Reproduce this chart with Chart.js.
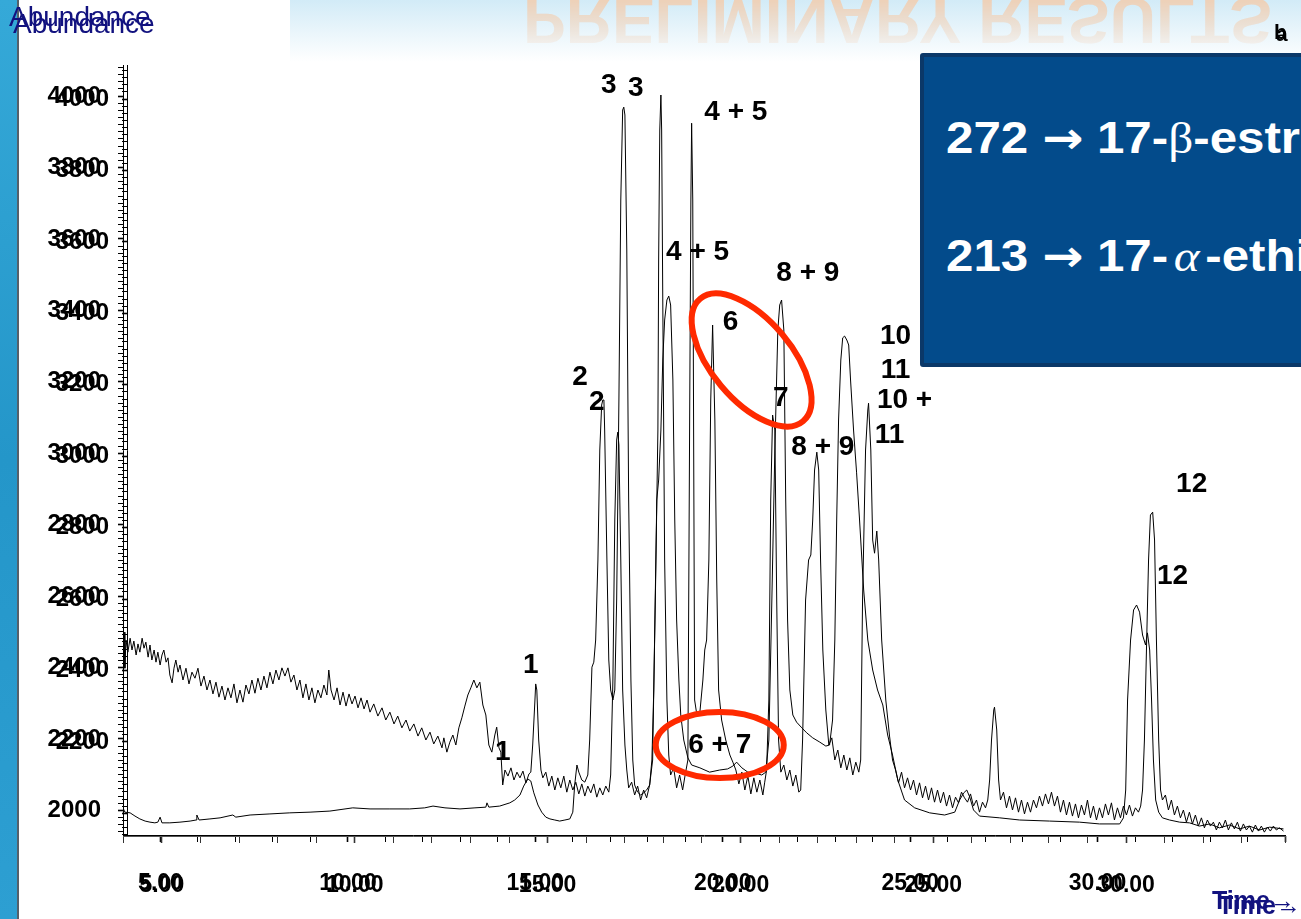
<!DOCTYPE html>
<html>
<head>
<meta charset="utf-8">
<script src="https://cdn.jsdelivr.net/npm/chart.js@4.4.1/dist/chart.umd.min.js"></script>
<style>
html, body { margin: 0; padding: 0; width: 1301px; height: 919px; overflow: hidden; background: #fff; font-family: "Liberation Sans", Arial, sans-serif; }
#leftbar { position: absolute; left: 0; top: 0; width: 17px; height: 919px; background: linear-gradient(180deg, #35a9d8, #2496c9 50%, #2d9fd2); border-right: 2px solid #55606a; }
#header { position: absolute; left: 290px; top: 0; width: 1011px; height: 62px; background: linear-gradient(180deg, #d2ebf7 0%, #e9f5fb 50%, #ffffff 100%); }
#titleclip { position: absolute; left: 0; top: 0; width: 1301px; height: 50px; overflow: hidden;
  -webkit-mask-image: linear-gradient(180deg, rgba(0,0,0,0.8), rgba(0,0,0,0.1));
  mask-image: linear-gradient(180deg, rgba(0,0,0,0.8), rgba(0,0,0,0.1)); }
#title { position: absolute; left: 523px; top: -12px; font-weight: bold; font-size: 64px; line-height: 64px; color: #f5caa8; white-space: nowrap; transform: scaleY(-1); }
canvas#chart { position: absolute; left: 0; top: 0; z-index: 2; }
.navy { position: absolute; color: #12127f; white-space: nowrap; z-index: 3; }
#box { position: absolute; left: 920px; top: 53px; width: 400px; height: 306px; background: #034b8b; border: 4px solid #0b3868; border-radius: 3px; z-index: 4; color: #fff; font-weight: bold; font-size: 44px; white-space: nowrap; overflow: hidden; }
#box .l { position: absolute; left: 22px; transform: scaleX(1.12); transform-origin: left center; }
.arr { font-family: "DejaVu Sans", sans-serif; font-size: 44px; }
.gr { font-family: "Liberation Serif", serif; font-weight: normal; }
.ab { position: absolute; font-weight: bold; font-size: 21px; color: #000; z-index: 3; }
</style>
</head>
<body>
<div id="leftbar"></div>
<div id="header"></div>
<div id="titleclip"><div id="title">PRELIMINARY RESULTS</div></div>

<canvas id="chart" width="1301" height="919"></canvas>

<div class="navy" style="left:9px;top:1px;font-size:28px;">Abundance</div>
<div class="navy" style="left:13px;top:8px;font-size:28px;">Abundance</div>
<div class="ab" style="left:1274px;top:20px;">b</div>
<div class="ab" style="left:1276px;top:22px;">a</div>
<div class="navy" style="left:1212px;top:886px;font-size:25px;font-weight:bold;">Time→</div>
<div class="navy" style="left:1218px;top:891px;font-size:25px;font-weight:bold;">Time→</div>

<div id="box">
  <div class="l" style="top:55px;">272 <span class="arr">→</span> 17-<span class="gr">β</span>-estradiol</div>
  <div class="l" style="top:173px;">213 <span class="arr">→</span> 17-<span class="gr" style="font-style:italic;margin:0 5px;">α</span>-ethinylestradiol</div>
</div>

<script>
// trace a : noisy chromatogram (time in min, abundance)
const timeA = [4.00,4.03,4.05,4.08,4.13,4.19,4.24,4.29,4.35,4.40,4.45,4.51,4.56,4.61,4.67,4.72,4.77,4.83,4.88,4.93,
  4.99,5.04,5.09,5.15,5.20,5.25,5.31,5.36,5.41,5.47,5.52,5.60,5.68,5.76,5.84,5.92,6.00,6.08,6.16,6.24,
  6.32,6.40,6.48,6.56,6.64,6.72,6.80,6.88,6.96,7.04,7.12,7.20,7.28,7.36,7.44,7.52,7.60,7.68,7.76,7.84,
  7.92,8.00,8.08,8.16,8.24,8.32,8.40,8.48,8.56,8.64,8.72,8.80,8.88,8.96,9.04,9.12,9.20,9.28,9.36,9.44,
  9.49,9.55,9.63,9.71,9.79,9.87,9.95,10.03,10.11,10.19,10.27,10.35,10.43,10.51,10.59,10.69,10.80,10.91,11.01,11.12,
  11.23,11.33,11.44,11.55,11.65,11.76,11.87,11.97,12.08,12.19,12.29,12.40,12.51,12.56,12.64,12.72,12.80,12.88,12.96,13.04,
  13.12,13.20,13.28,13.36,13.44,13.52,13.60,13.68,13.76,13.84,13.92,13.97,14.03,14.08,14.13,14.19,14.27,14.35,14.43,14.51,
  14.59,14.67,14.75,14.83,14.88,14.93,14.99,15.01,15.04,15.09,15.15,15.20,15.28,15.36,15.44,15.52,15.60,15.68,15.76,15.84,
  15.92,16.00,16.08,16.16,16.24,16.32,16.40,16.48,16.56,16.64,16.72,16.80,16.88,16.96,17.01,17.07,17.12,17.17,17.20,17.23,
  17.28,17.33,17.39,17.44,17.49,17.57,17.65,17.73,17.81,17.89,17.97,18.05,18.11,18.16,18.21,18.27,18.29,18.32,18.35,18.37,
  18.40,18.45,18.51,18.56,18.61,18.69,18.77,18.85,18.93,19.01,19.07,19.12,19.15,19.17,19.20,19.23,19.25,19.31,19.39,19.47,
  19.52,19.57,19.63,19.68,19.73,19.79,19.84,19.89,19.97,20.08,20.19,20.27,20.35,20.43,20.51,20.59,20.67,20.75,20.83,20.91,
  20.99,21.07,21.12,21.17,21.23,21.28,21.33,21.39,21.44,21.49,21.55,21.63,21.71,21.79,21.87,21.95,22.03,22.08,22.13,22.21,
  22.29,22.35,22.40,22.45,22.51,22.56,22.61,22.67,22.75,22.83,22.91,22.99,23.07,23.15,23.23,23.31,23.39,23.47,23.55,23.63,
  23.68,23.73,23.81,23.87,23.89,23.95,24.00,24.05,24.11,24.16,24.24,24.35,24.45,24.53,24.61,24.69,24.77,24.85,24.93,25.01,
  25.09,25.17,25.25,25.33,25.41,25.49,25.57,25.65,25.73,25.81,25.89,25.97,26.05,26.13,26.21,26.29,26.37,26.45,26.53,26.61,
  26.69,26.77,26.85,26.93,27.01,27.07,27.12,27.17,27.23,27.25,27.31,27.36,27.41,27.49,27.57,27.65,27.73,27.81,27.89,27.97,
  28.05,28.13,28.21,28.29,28.37,28.45,28.53,28.61,28.69,28.77,28.85,28.93,29.01,29.09,29.17,29.25,29.33,29.41,29.49,29.57,
  29.65,29.73,29.81,29.89,29.97,30.05,30.13,30.21,30.29,30.37,30.45,30.53,30.61,30.69,30.77,30.85,30.93,31.01,31.09,31.15,
  31.20,31.25,31.31,31.36,31.41,31.47,31.52,31.57,31.63,31.68,31.73,31.81,31.89,31.97,32.05,32.13,32.21,32.29,32.37,32.45,
  32.53,32.61,32.69,32.77,32.85,32.93,33.01,33.09,33.17,33.25,33.33,33.41,33.49,33.57,33.65,33.73,33.81,33.89,33.97,34.05,
  34.13,34.21,34.29,34.37,34.45,34.53,34.61,34.69,34.77,34.85,34.96];
const abundA = [2449,2499,2398,2477,2443,2482,2449,2474,2435,2466,2443,2482,2454,2471,2429,2463,2421,2449,2415,2443,
  2407,2435,2449,2415,2427,2379,2357,2398,2421,2387,2407,2365,2398,2354,2387,2370,2398,2348,2376,2337,
  2365,2326,2359,2317,2348,2309,2343,2315,2354,2301,2337,2303,2351,2326,2365,2328,2370,2337,2376,2343,
  2387,2354,2393,2365,2399,2376,2399,2359,2379,2337,2365,2315,2354,2309,2343,2301,2337,2315,2351,2323,
  2393,2337,2309,2343,2295,2331,2292,2326,2298,2320,2287,2315,2284,2309,2275,2298,2264,2287,2253,2275,
  2242,2264,2231,2253,2222,2242,2208,2231,2197,2219,2186,2208,2175,2203,2163,2191,2211,2183,2231,2259,
  2292,2323,2343,2365,2343,2359,2295,2267,2183,2163,2211,2233,2175,2163,2071,2113,2096,2119,2085,2107,
  2091,2110,2077,2102,2107,2183,2309,2354,2337,2197,2113,2091,2107,2068,2096,2057,2091,2063,2096,2051,
  2085,2057,2079,2046,2074,2040,2068,2049,2074,2037,2063,2043,2068,2051,2099,2365,2813,3037,3059,3023,
  2701,2337,2183,2113,2063,2079,2043,2068,2029,2057,2035,2071,2141,2337,2645,3065,3541,3905,4003,3905,
  3429,2701,2309,2155,2099,2119,2063,2099,2057,2107,2141,3149,3709,3924,3709,2869,2309,2267,2275,2365,
  2449,2477,2701,3149,3359,3093,2645,2337,2253,2197,2155,2135,2113,2074,2107,2057,2096,2046,2091,2051,
  2085,2043,2079,2113,2309,2869,3107,3065,2589,2197,2107,2127,2085,2113,2068,2099,2051,2057,2197,2589,
  2701,2715,2813,2953,3003,2953,2701,2449,2281,2183,2203,2141,2169,2119,2155,2113,2147,2099,2135,2107,
  2141,2589,3009,3121,3140,3009,2757,2720,2782,2701,2477,2309,2208,2141,2113,2077,2107,2063,2091,2057,
  2085,2043,2077,2035,2068,2029,2063,2023,2057,2021,2051,2012,2043,2007,2037,2021,2051,2035,2023,2046,
  2012,2029,1995,2023,2007,2029,2085,2197,2281,2289,2225,2085,2029,2051,2007,2040,2001,2035,1995,2029,
  1990,2023,1995,2029,2007,2040,2012,2046,2018,2051,2012,2040,1995,2029,1987,2023,1984,2018,1979,2015,
  1987,2029,1979,2012,1973,2007,1979,2018,1987,2021,1973,2007,1979,2012,1987,2015,1984,2007,1995,2012,
  2057,2197,2477,2701,2827,2835,2757,2477,2197,2057,2029,2043,2001,2029,1987,2012,1979,2001,1967,1995,
  1962,1987,1956,1979,1951,1973,1956,1967,1945,1967,1951,1973,1945,1965,1948,1967,1942,1962,1945,1956,
  1939,1959,1942,1956,1939,1953,1942,1956,1945,1951,1942];

// trace b : smooth chromatogram
const timeB = [4.00,4.05,4.19,4.32,4.45,4.59,4.72,4.85,4.93,4.99,5.04,5.25,5.52,5.79,5.95,5.97,6.03,6.32,6.59,6.93,
  7.01,7.39,7.92,8.45,8.99,9.52,10.13,10.59,11.12,11.65,12.05,12.27,12.59,12.99,13.39,13.68,13.71,13.76,14.05,14.32,
  14.45,14.59,14.69,14.80,14.88,14.96,15.07,15.17,15.28,15.39,15.52,15.65,15.79,15.92,16.00,16.05,16.11,16.16,16.24,16.32,
  16.40,16.45,16.51,16.56,16.61,16.67,16.72,16.77,16.80,16.83,16.85,16.91,16.96,17.01,17.07,17.12,17.17,17.23,17.28,17.33,
  17.36,17.39,17.44,17.49,17.55,17.60,17.65,17.73,17.81,17.89,17.97,18.05,18.13,18.19,18.24,18.29,18.35,18.40,18.45,18.51,
  18.56,18.61,18.67,18.72,18.77,18.83,18.88,18.96,19.07,19.17,19.39,19.65,19.92,20.13,20.27,20.37,20.51,20.67,20.85,21.04,
  21.15,21.23,21.31,21.39,21.47,21.52,21.57,21.63,21.68,21.73,21.79,21.87,21.97,22.11,22.24,22.40,22.59,22.75,22.85,22.93,
  22.99,23.04,23.09,23.15,23.20,23.25,23.31,23.36,23.41,23.49,23.57,23.65,23.76,23.87,24.00,24.13,24.27,24.40,24.53,24.67,
  24.85,25.12,25.52,25.92,26.19,26.32,26.43,26.51,26.59,26.69,26.85,27.39,27.92,28.72,29.52,30.05,30.59,30.69,30.75,30.80,
  30.88,30.96,31.04,31.12,31.20,31.28,31.33,31.39,31.44,31.49,31.55,31.63,31.73,31.92,32.19,32.45,32.72,32.99,33.25,33.52,
  33.79,34.05,34.32,34.59,34.96];
const abundB = [2007,1995,1993,1984,1976,1970,1967,1965,1967,1981,1965,1965,1967,1970,1973,1987,1973,1976,1979,1987,
  1981,1987,1990,1993,1995,1998,2007,2004,2004,2004,2007,2012,2007,2004,2007,2009,2021,2009,2012,2021,
  2029,2043,2068,2088,2082,2049,2015,1995,1981,1976,1973,1970,1973,1976,1995,2071,2127,2107,2085,2079,
  2099,2197,2401,2415,2477,2701,3009,3135,3149,3149,3065,2701,2421,2337,2309,2337,2589,3149,3709,3961,
  3969,3947,3569,2869,2365,2141,2071,2051,2043,2049,2057,2071,2141,2533,2869,2925,3065,3261,3373,3429,
  3440,3415,3205,2813,2533,2365,2267,2197,2147,2127,2119,2107,2113,2116,2124,2135,2119,2107,2105,2099,
  2107,2197,2589,3009,3345,3415,3429,3345,2869,2533,2337,2267,2247,2231,2217,2203,2191,2180,2183,2253,
  2477,2813,3093,3261,3323,3328,3317,3303,3205,3065,2947,2813,2617,2477,2393,2337,2295,2211,2155,2085,
  2029,2007,1993,1987,1995,2029,2049,2057,2037,2001,1984,1979,1973,1970,1967,1962,1962,1979,2057,2309,
  2477,2561,2575,2555,2491,2463,2497,2449,2309,2141,2029,1995,1979,1973,1967,1965,1956,1962,1951,1959,
  1948,1956,1945,1953,1948];

// y tick labels shown on both overlaid axes
const yLabelValues = [2000, 2200, 2400, 2600, 2800, 3000, 3200, 3400, 3600, 3800, 4000];
const xLabelValues = [5, 10, 15, 20, 25, 30];

// peak annotations
const peakText  = ['1', '1', '2', '2', '3', '3', '4 + 5', '4 + 5', '6', '6 + 7', '7', '8 + 9', '8 + 9', '10', '11', '10 +', '11', '12', '12'];
const peakTime  = [14.88, 14.13, 16.19, 16.64, 16.96, 17.68, 20.35, 19.33, 20.21, 19.92, 21.55, 22.27, 22.67, 24.61, 24.61, 24.85, 24.45, 32.51, 32.00];
const peakAbund = [2407, 2163, 3213, 3143, 4031, 4022, 3955, 3563, 3367, 2183, 3154, 3504, 3017, 3328, 3233, 3149, 3051, 2914, 2656];

// red circles around the 6 / 7 peaks
const ringTime  = [20.77, 19.92];
const ringAbund = [3261, 2183];

const black = '#000';
const labelFont = { family: 'Liberation Sans', size: 24, weight: 'bold' };
const xFont = { family: 'Liberation Sans', size: 23, weight: 'bold' };

const annotate = {
  id: 'annotate',
  afterDatasetsDraw(chart) {
    const c = chart.ctx;
    const xs = chart.scales.x, ys = chart.scales.y;
    c.save();
    c.fillStyle = black;
    c.font = 'bold 28px "Liberation Sans"';
    c.textAlign = 'center';
    c.textBaseline = 'middle';
    peakText.forEach((t, i) => {
      c.fillText(t, xs.getPixelForValue(peakTime[i]), ys.getPixelForValue(peakAbund[i]));
    });
    c.strokeStyle = '#ff2a00';
    c.lineWidth = 6;
    const shapes = [[80, 40, 50], [64, 33, 0]];
    ringTime.forEach((t, i) => {
      const [rx, ry, rot] = shapes[i];
      c.beginPath();
      c.ellipse(xs.getPixelForValue(t), ys.getPixelForValue(ringAbund[i]), rx, ry, rot * Math.PI / 180, 0, Math.PI * 2);
      c.stroke();
    });
    c.restore();
  }
};

function yTickLabel(skip2000) {
  return function (v) {
    if (skip2000 && v === 2000) return '';
    return yLabelValues.includes(v) ? String(v) : '';
  };
}
function xTickLabel(v) {
  return xLabelValues.includes(v) ? v.toFixed(2) : '';
}
const majorY = (ctx) => (ctx.tick && ctx.tick.value % 200 === 0 ? 1.6 : 1);
const majorX = (ctx) => (ctx.tick && ctx.tick.value % 5 === 0 ? 1.6 : 1);
// axes placed inside the plot must not push the plot edges in
const noSidePad = (s) => { s.paddingLeft = 0; s.paddingRight = 0; };

new Chart(document.getElementById('chart'), {
  type: 'line',
  data: {
    datasets: [
      { data: timeA.map((t, i) => ({ x: t, y: abundA[i] })), borderColor: black, borderWidth: 1, pointRadius: 0, tension: 0, xAxisID: 'x', yAxisID: 'y' },
      { data: timeB.map((t, i) => ({ x: t, y: abundB[i] })), borderColor: black, borderWidth: 1, pointRadius: 0, tension: 0, xAxisID: 'x', yAxisID: 'y' }
    ]
  },
  options: {
    responsive: false,
    animation: false,
    devicePixelRatio: 1,
    layout: { padding: { top: 65, right: 16, left: 0, bottom: 0 } },
    plugins: { legend: { display: false }, tooltip: { enabled: false } },
    scales: {
      x: {
        type: 'linear', position: 'bottom', min: 4, max: 35,
        afterFit(s) { s.height = 84; noSidePad(s); },
        border: { color: black },
        grid: { drawOnChartArea: false, tickLength: 7, tickColor: black, tickWidth: majorX },
        ticks: { stepSize: 1, autoSkip: false, maxRotation: 0, padding: 28, color: black, font: xFont, callback: xTickLabel }
      },
      x2: {
        type: 'linear', position: { y: 1926 }, min: 3.99, max: 34.12,
        afterFit: noSidePad,
        border: { color: '#555' },
        grid: { drawOnChartArea: false, tickLength: 6, tickColor: '#333', tickWidth: majorX },
        ticks: { stepSize: 1, autoSkip: false, maxRotation: 0, padding: 29, color: black, font: xFont, callback: xTickLabel }
      },
      // outer axis: line at the plot edge, first set of labels
      y: {
        type: 'linear', position: 'left', min: 1931, max: 4087,
        afterFit(s) { s.width = 123; },
        border: { color: black },
        grid: { drawOnChartArea: false, tickLength: 5, tickColor: black, tickWidth: majorY },
        ticks: { stepSize: 20, autoSkip: false, includeBounds: false, padding: 17, color: black, font: labelFont, callback: yTickLabel(false) }
      },
      // second axis line of the overlaid trace, a few pixels inside
      y2: {
        type: 'linear', position: { x: 4.133 }, min: 1939.4, max: 4095.4,
        border: { color: black },
        grid: { drawOnChartArea: false, tickLength: 5, tickColor: black, tickWidth: majorY },
        ticks: { stepSize: 20, autoSkip: false, includeBounds: false, color: black, callback: () => '' }
      },
      // labels of the overlaid trace (right-aligned on their anchor)
      y3: {
        type: 'linear', position: { x: 3.627 }, min: 1939.4, max: 4095.4,
        border: { display: false },
        grid: { display: false, drawTicks: false, drawOnChartArea: false },
        ticks: { stepSize: 200, autoSkip: false, includeBounds: false, color: black, font: labelFont, callback: yTickLabel(true) }
      }
    }
  },
  plugins: [annotate]
});
</script>
</body>
</html>
